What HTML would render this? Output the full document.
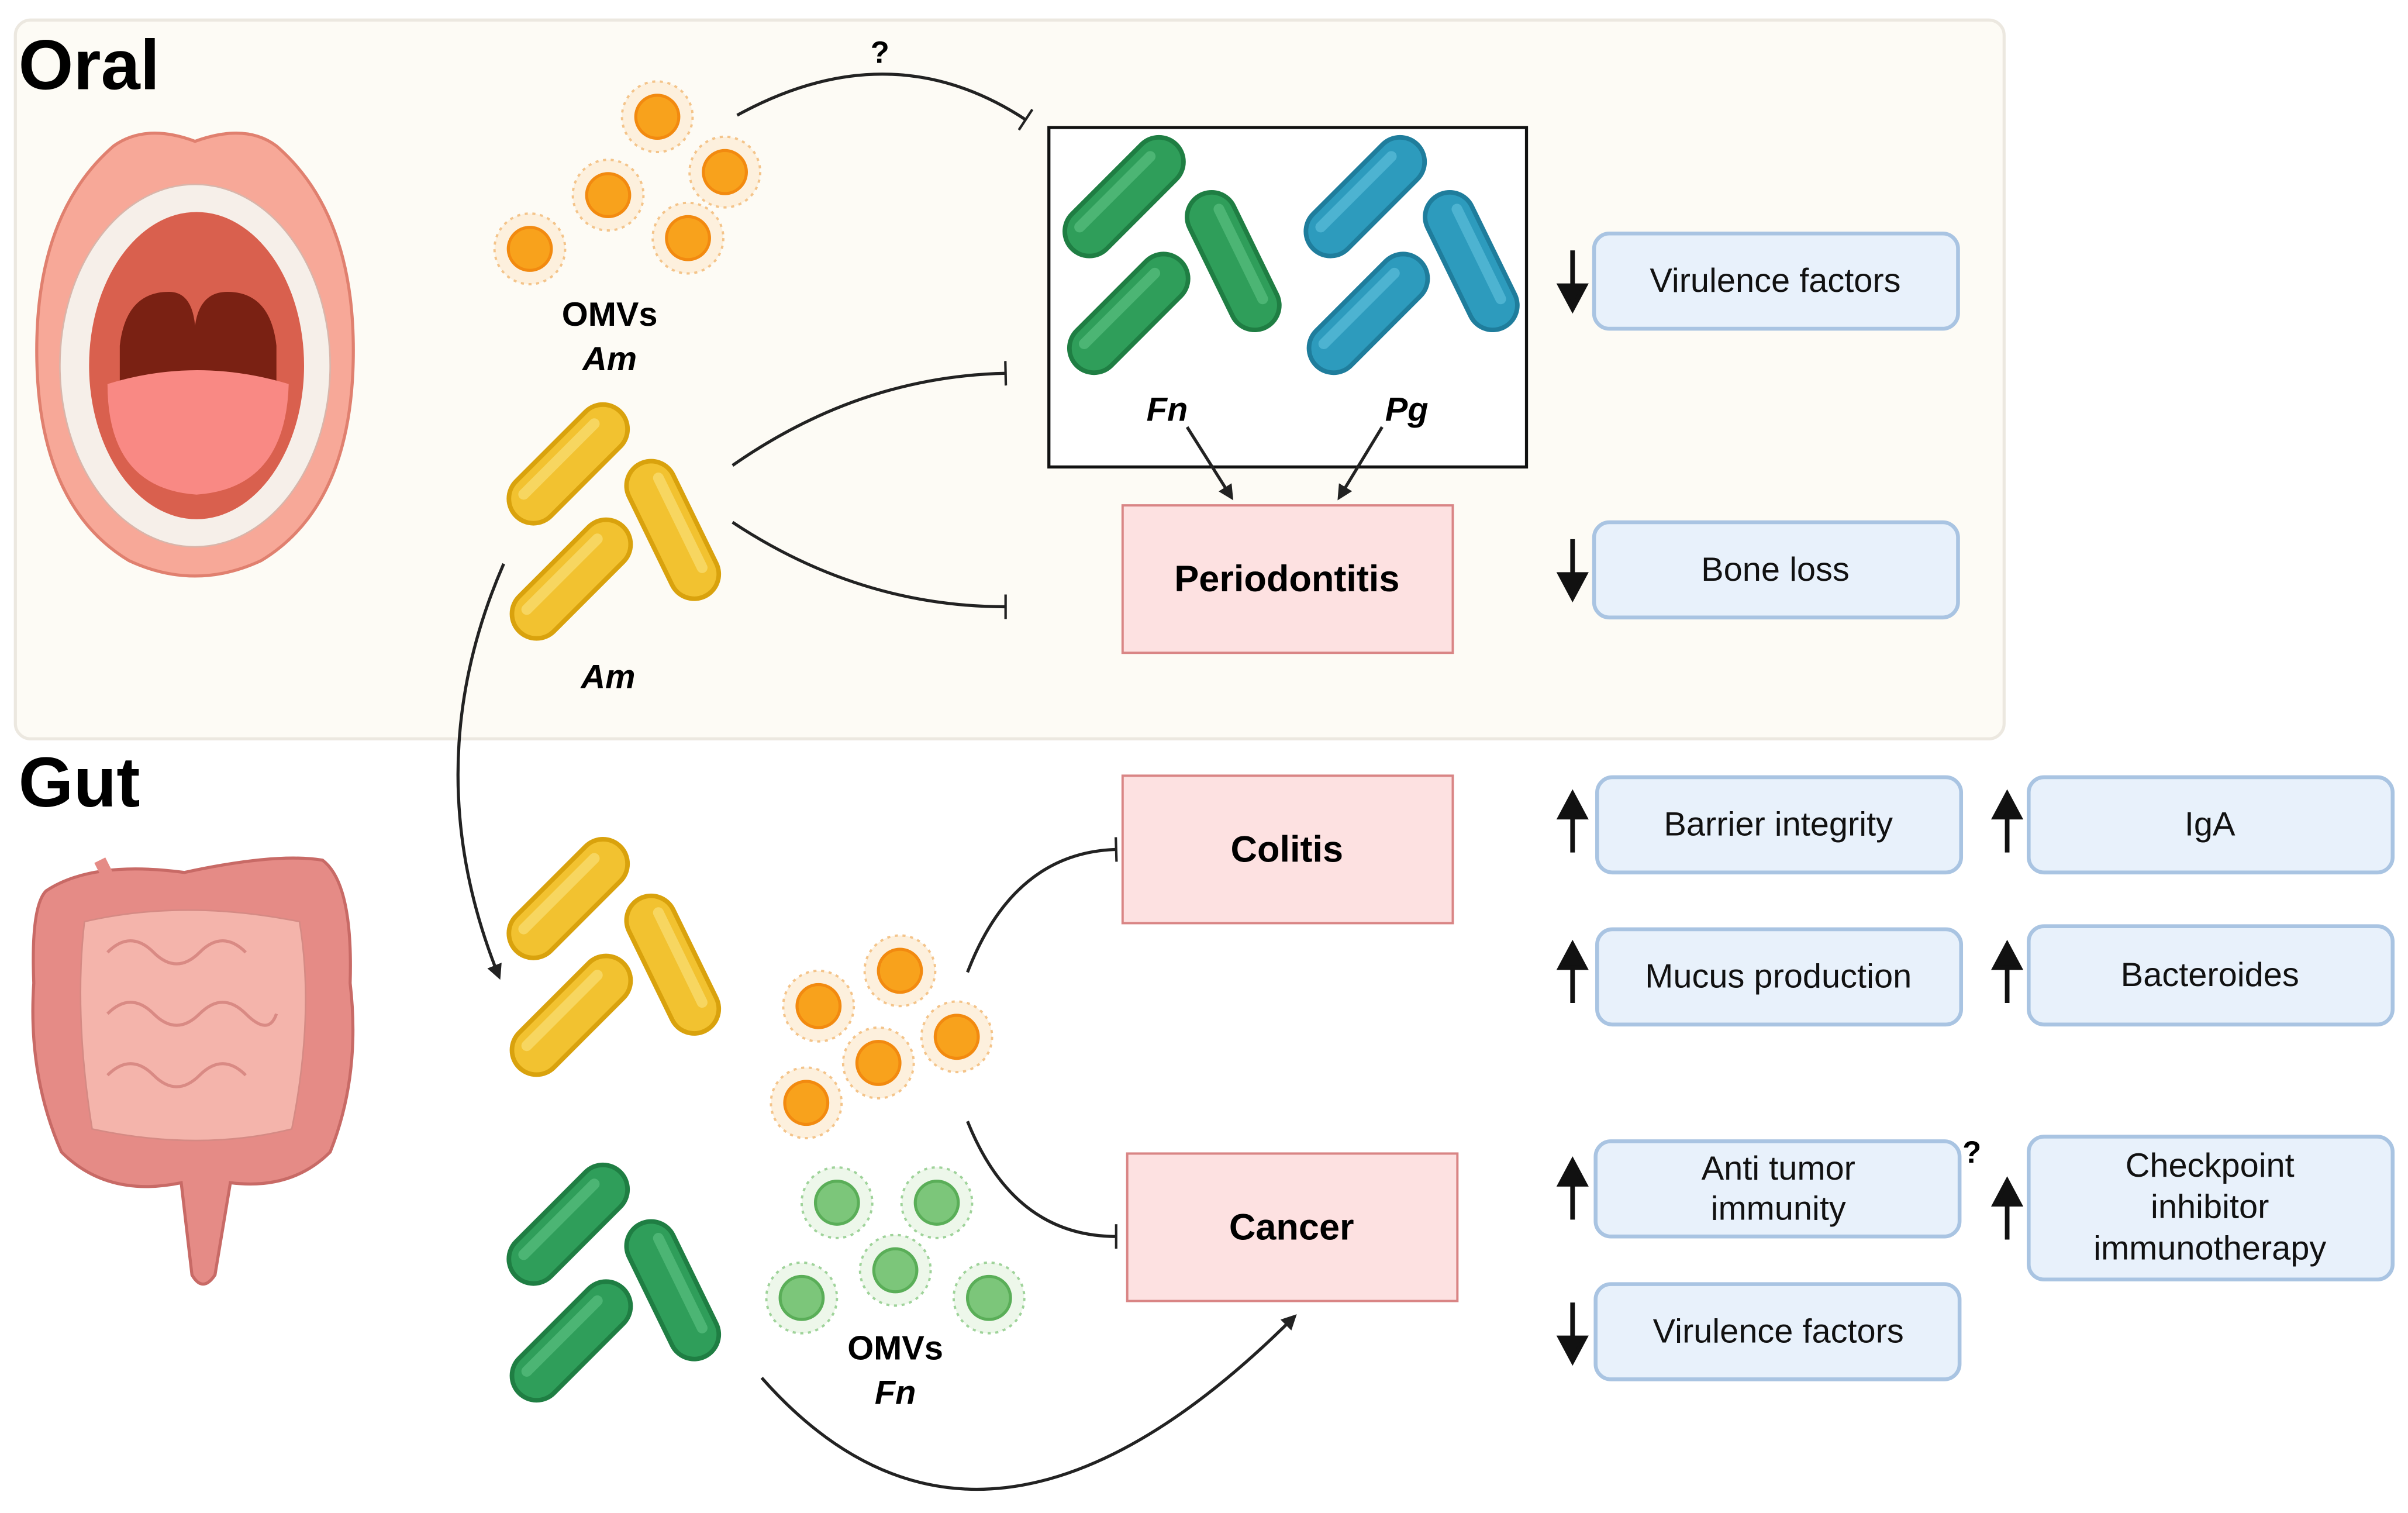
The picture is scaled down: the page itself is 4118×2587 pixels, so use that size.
<!DOCTYPE html>
<html><head><meta charset="utf-8"><style>html,body{margin:0;padding:0;background:#fff}svg{display:block}text{font-family:"Liberation Sans",sans-serif}</style></head><body>
<svg width="4118" height="2587" viewBox="0 0 1568 985" xmlns="http://www.w3.org/2000/svg">
<defs>
<marker id="ar" markerWidth="10" markerHeight="10" refX="8" refY="5" orient="auto" markerUnits="userSpaceOnUse"><path d="M0,0 L10,5 L0,10 z" fill="#222"/></marker>
<marker id="tb" markerWidth="4" markerHeight="16" refX="2" refY="8" orient="auto" markerUnits="userSpaceOnUse"><rect x="1" y="0" width="1.6" height="16" fill="#222"/></marker>
<g id="rodY"><rect x="-48" y="-16" width="96" height="32" rx="16" fill="#f2c230" stroke="#d9a20d" stroke-width="3"/><rect x="-38" y="-10" width="72" height="7" rx="3.5" fill="#f7d660"/></g>
<g id="rodG"><rect x="-48" y="-16" width="96" height="32" rx="16" fill="#2f9e5a" stroke="#1f7e43" stroke-width="3"/><rect x="-38" y="-10" width="72" height="7" rx="3.5" fill="#4cb574"/></g>
<g id="rodB"><rect x="-48" y="-16" width="96" height="32" rx="16" fill="#2d9bbd" stroke="#1f7d9c" stroke-width="3"/><rect x="-38" y="-10" width="72" height="7" rx="3.5" fill="#4db3d1"/></g>
<g id="omvO"><circle r="23" fill="#fdf0dd" stroke="#f4c48a" stroke-width="1.5" stroke-dasharray="2 3"/><circle r="14" fill="#f8a21c" stroke="#f28a10" stroke-width="2"/></g>
<g id="omvG"><circle r="23" fill="#edf7ea" stroke="#9fd39a" stroke-width="1.5" stroke-dasharray="2 3"/><circle r="14" fill="#7cc67a" stroke="#5aae58" stroke-width="2"/></g>
</defs>
<rect x="10" y="13" width="1295" height="468" rx="10" fill="#fdfbf5" stroke="#ece8e0" stroke-width="2"/>
<text x="12" y="58" font-size="46" font-weight="bold">Oral</text>
<text x="12" y="525" font-size="46" font-weight="bold">Gut</text>
<!-- mouth -->
<path d="M127,92 Q160,80 180,95 Q232,140 230,235 Q228,330 170,365 Q127,385 84,365 Q26,330 24,235 Q22,140 74,95 Q95,80 127,92 z" fill="#f7a898" stroke="#e0806f" stroke-width="2"/>
<ellipse cx="127" cy="238" rx="88" ry="118" fill="#f6efe9" stroke="#d9b5aa"/>
<ellipse cx="128" cy="238" rx="70" ry="100" fill="#d9604e"/>
<path d="M78,225 Q82,190 110,190 Q125,190 127,212 Q130,190 148,190 Q176,190 180,225 L180,252 L78,252 z" fill="#7a2113"/>
<path d="M70,250 Q128,232 188,250 Q186,318 128,322 Q70,318 70,250 z" fill="#f98984"/>
<!-- intestine -->
<path d="M30,580 Q60,560 120,568 Q180,555 210,560 Q230,575 228,640 Q235,700 215,750 Q190,775 150,770 L140,830 Q132,842 125,830 L118,770 Q70,780 40,750 Q18,700 22,640 Q20,590 30,580 z" fill="#e58b86" stroke="#c86a66" stroke-width="2"/>
<path d="M55,600 Q120,585 195,600 Q205,660 190,735 Q130,750 60,735 Q48,660 55,600 z" fill="#f4b4ab" stroke="#d58a84"/>
<g fill="none" stroke="#d98a84" stroke-width="2">
<path d="M70,620 q15,-15 30,0 t30,0 t30,0"/><path d="M70,660 q15,-15 30,0 t30,0 t30,0 t20,0"/><path d="M70,700 q15,-15 30,0 t30,0 t30,0"/>
</g>
<path d="M65,560 L75,580" stroke="#e58b86" stroke-width="8"/>
<!-- oral bacteria -->
<use href="#omvO" x="428" y="76"/><use href="#omvO" x="472" y="112"/><use href="#omvO" x="396" y="127"/><use href="#omvO" x="448" y="155"/><use href="#omvO" x="345" y="162"/>
<text x="397" y="212" font-size="22" font-weight="bold" text-anchor="middle">OMVs</text>
<text x="397" y="241" font-size="22" font-weight="bold" font-style="italic" text-anchor="middle">Am</text>
<use href="#rodY" transform="translate(370,302) rotate(-45)"/><use href="#rodY" transform="translate(438,345) rotate(64)"/><use href="#rodY" transform="translate(372,377) rotate(-45)"/>
<text x="396" y="448" font-size="22" font-weight="bold" font-style="italic" text-anchor="middle">Am</text>
<rect x="683" y="83" width="311" height="221" fill="#fff" stroke="#111" stroke-width="2"/>
<use href="#rodG" transform="translate(732,128) rotate(-45)"/><use href="#rodG" transform="translate(803,170) rotate(64)"/><use href="#rodG" transform="translate(735,204) rotate(-45)"/>
<use href="#rodB" transform="translate(889,128) rotate(-45)"/><use href="#rodB" transform="translate(958,170) rotate(64)"/><use href="#rodB" transform="translate(891,204) rotate(-45)"/>
<text x="760" y="274" font-size="22" font-weight="bold" font-style="italic" text-anchor="middle">Fn</text>
<text x="916" y="274" font-size="22" font-weight="bold" font-style="italic" text-anchor="middle">Pg</text>
<!-- gut bacteria -->
<use href="#rodY" transform="translate(370,585) rotate(-45)"/><use href="#rodY" transform="translate(438,628) rotate(64)"/><use href="#rodY" transform="translate(372,661) rotate(-45)"/>
<use href="#rodG" transform="translate(370,797) rotate(-45)"/><use href="#rodG" transform="translate(438,840) rotate(64)"/><use href="#rodG" transform="translate(372,873) rotate(-45)"/>
<use href="#omvO" x="586" y="632"/><use href="#omvO" x="533" y="655"/><use href="#omvO" x="623" y="675"/><use href="#omvO" x="572" y="692"/><use href="#omvO" x="525" y="718"/>
<use href="#omvG" x="545" y="783"/><use href="#omvG" x="610" y="783"/><use href="#omvG" x="583" y="827"/><use href="#omvG" x="522" y="845"/><use href="#omvG" x="644" y="845"/>
<text x="583" y="885" font-size="22" font-weight="bold" text-anchor="middle">OMVs</text>
<text x="583" y="914" font-size="22" font-weight="bold" font-style="italic" text-anchor="middle">Fn</text>
<!-- pink boxes -->
<g font-size="24" font-weight="bold" text-anchor="middle">
<rect x="731" y="329" width="215" height="96" fill="#fde1e1" stroke="#d98585" stroke-width="1.5"/><text x="838" y="385">Periodontitis</text>
<rect x="731" y="505" width="215" height="96" fill="#fde1e1" stroke="#d98585" stroke-width="1.5"/><text x="838" y="561">Colitis</text>
<rect x="734" y="751" width="215" height="96" fill="#fde1e1" stroke="#d98585" stroke-width="1.5"/><text x="841" y="807">Cancer</text>
</g>
<!-- blue boxes -->
<g fill="#e8f1fb" stroke="#a9c4e2" stroke-width="2.5">
<rect x="1038" y="152" width="237" height="62" rx="10"/><rect x="1038" y="340" width="237" height="62" rx="10"/>
<rect x="1040" y="506" width="237" height="62" rx="10"/><rect x="1321" y="506" width="237" height="62" rx="10"/>
<rect x="1040" y="605" width="237" height="62" rx="10"/><rect x="1321" y="603" width="237" height="64" rx="10"/>
<rect x="1039" y="743" width="237" height="62" rx="10"/><rect x="1321" y="740" width="237" height="93" rx="10"/>
<rect x="1039" y="836" width="237" height="62" rx="10"/>
</g>
<g font-size="22" text-anchor="middle" fill="#111">
<text x="1156" y="190">Virulence factors</text><text x="1156" y="378">Bone loss</text>
<text x="1158" y="544">Barrier integrity</text><text x="1439" y="544">IgA</text>
<text x="1158" y="643">Mucus production</text><text x="1439" y="642">Bacteroides</text>
<text x="1158" y="768">Anti tumor</text><text x="1158" y="794">immunity</text>
<text x="1439" y="766">Checkpoint</text><text x="1439" y="793">inhibitor</text><text x="1439" y="820">immunotherapy</text>
<text x="1158" y="874">Virulence factors</text>
</g>
<!-- up/down arrows -->
<g stroke="#111" stroke-width="3" fill="#111">
<line x1="1024" y1="163" x2="1024" y2="190"/><path d="M1016,186 L1032,186 L1024,201 z"/>
<line x1="1024" y1="351" x2="1024" y2="378"/><path d="M1016,374 L1032,374 L1024,389 z"/>
<line x1="1024" y1="555" x2="1024" y2="528"/><path d="M1016,532 L1032,532 L1024,517 z"/>
<line x1="1307" y1="555" x2="1307" y2="528"/><path d="M1299,532 L1315,532 L1307,517 z"/>
<line x1="1024" y1="653" x2="1024" y2="626"/><path d="M1016,630 L1032,630 L1024,615 z"/>
<line x1="1307" y1="653" x2="1307" y2="626"/><path d="M1299,630 L1315,630 L1307,615 z"/>
<line x1="1024" y1="794" x2="1024" y2="767"/><path d="M1016,771 L1032,771 L1024,756 z"/>
<line x1="1307" y1="807" x2="1307" y2="780"/><path d="M1299,784 L1315,784 L1307,769 z"/>
<line x1="1024" y1="848" x2="1024" y2="875"/><path d="M1016,871 L1032,871 L1024,886 z"/>
</g>
<text x="573" y="41" font-size="20" font-weight="bold" text-anchor="middle">?</text>
<text x="1284" y="757" font-size="20" font-weight="bold" text-anchor="middle">?</text>
<!-- connectors -->
<g fill="none" stroke="#222" stroke-width="2">
<path d="M480,75 Q580,20 668,78" marker-end="url(#tb)"/>
<path d="M477,303 Q560,245 655,243" marker-end="url(#tb)"/>
<path d="M477,340 Q560,395 655,395" marker-end="url(#tb)"/>
<path d="M773,278 L802,324" marker-end="url(#ar)"/>
<path d="M900,278 L872,324" marker-end="url(#ar)"/>
<path d="M328,367 Q270,500 325,636" marker-end="url(#ar)"/>
<path d="M630,633 Q660,555 727,553" marker-end="url(#tb)"/>
<path d="M630,730 Q660,805 727,805" marker-end="url(#tb)"/>
<path d="M496,897 Q640,1060 843,857" marker-end="url(#ar)"/>
</g>
</svg>
</body></html>
